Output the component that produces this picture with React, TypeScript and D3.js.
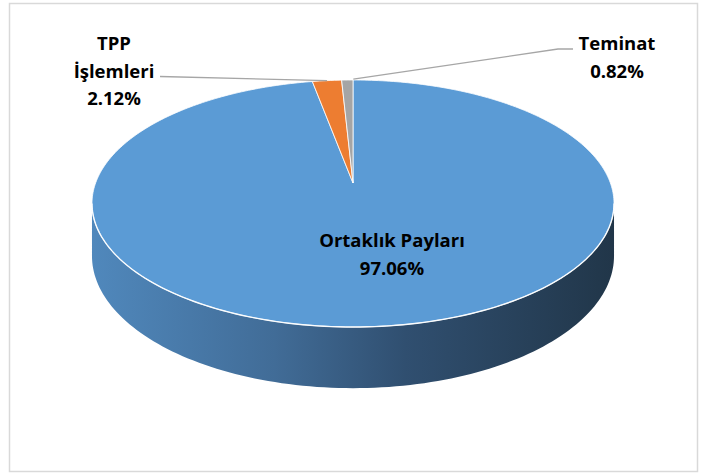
import React from "react";
import * as d3 from "d3";

const categories = ["Ortaklık Payları", "TPP İşlemleri", "Teminat"];
const values = [97.06, 2.12, 0.82];
const labelLines = [["Ortaklık Payları", "97.06%"], ["TPP", "İşlemleri", "2.12%"], ["Teminat", "0.82%"]];
const colors = ["#5B9BD5", "#ED7D31", "#A5A5A5"];

const W = 706, H = 474;
const cx = 353, cy = 183;
const k = 257.4, m = 120.1, p = 0.166, depth = 51;

function project(theta: number, h: number): [number, number] {
  const f = 1 + p * Math.cos(theta);
  return [cx + (k * Math.sin(theta)) / f, cy - (m * Math.cos(theta)) / f + h / f];
}

function arcPoints(a0: number, a1: number, h: number, n = 120): [number, number][] {
  const pts: [number, number][] = [];
  for (let i = 0; i <= n; i++) pts.push(project(a0 + ((a1 - a0) * i) / n, h));
  return pts;
}

const line = d3.line<[number, number]>().x((d) => d[0]).y((d) => d[1]);

export default function App() {
  const pie = d3.pie<number>().sort(null).value((d) => d);
  const arcs = pie(values);

  const left = Math.acos(-p);
  const right = 2 * Math.PI - Math.acos(-p);
  const topEdge = arcPoints(left, right, 0);
  const botEdge = arcPoints(right, left, depth);
  const sidePath = line([...topEdge, ...botEdge])! + "Z";

  const slicePaths = arcs.map((a) => {
    const pts = arcPoints(a.startAngle, a.endAngle, 0, Math.max(8, Math.ceil((a.endAngle - a.startAngle) * 60)));
    return line([[cx, cy], ...pts])! + "Z";
  });

  const frontEdge = line(arcPoints(left, right, 0))!;

  const labelPos: { x: number; y: number }[] = [
    { x: 392, y: 247 },
    { x: 114, y: 50 },
    { x: 617, y: 50 },
  ];
  const lh = 27.6;

  const midTPP = (arcs[1].startAngle + arcs[1].endAngle) / 2;
  const midTem = (arcs[2].startAngle + arcs[2].endAngle) / 2;
  const pTPP = project(midTPP, 0);
  const pTem = project(midTem, 0);

  return (
    <svg width={W} height={H} style={{ position: "absolute", left: 0, top: 0, background: "#fff" }}>
      <defs>
        <linearGradient id="sideGrad" gradientUnits="userSpaceOnUse" x1={92} y1={0} x2={614} y2={0}>
          <stop offset="0%" stopColor="#5088BC" />
          <stop offset="35%" stopColor="#416C97" />
          <stop offset="60%" stopColor="#304F70" />
          <stop offset="100%" stopColor="#213649" />
        </linearGradient>
      </defs>
      <rect x={9.5} y={3.5} width={688} height={468} fill="#fff" stroke="#D9D9D9" strokeWidth={1.5} />
      <path d={sidePath} fill="url(#sideGrad)" />
      {slicePaths.map((d, i) => (
        <path key={categories[i]} d={d} fill={colors[i]} stroke="#fff" strokeWidth={0.8} strokeLinejoin="round" />
      ))}
      <path d={frontEdge} fill="none" stroke="#fff" strokeWidth={1.4} opacity={0.9} />
      <polyline points={`160,76.5 ${pTPP[0]},${pTPP[1]}`} fill="none" stroke="#A6A6A6" strokeWidth={1.3} />
      <polyline points={`573,49 558,49 ${pTem[0] + 6},${pTem[1] - 1}`} fill="none" stroke="#A6A6A6" strokeWidth={1.3} />
      {labelLines.map((lines, i) => (
        <text key={i} textAnchor="middle" fontFamily="'Open Sans', Lato, sans-serif" fontWeight="bold" fontSize={18.5} fill="#000">
          {lines.map((t, j) => (
            <tspan key={j} x={labelPos[i].x} y={labelPos[i].y + j * lh}>{t}</tspan>
          ))}
        </text>
      ))}
    </svg>
  );
}
